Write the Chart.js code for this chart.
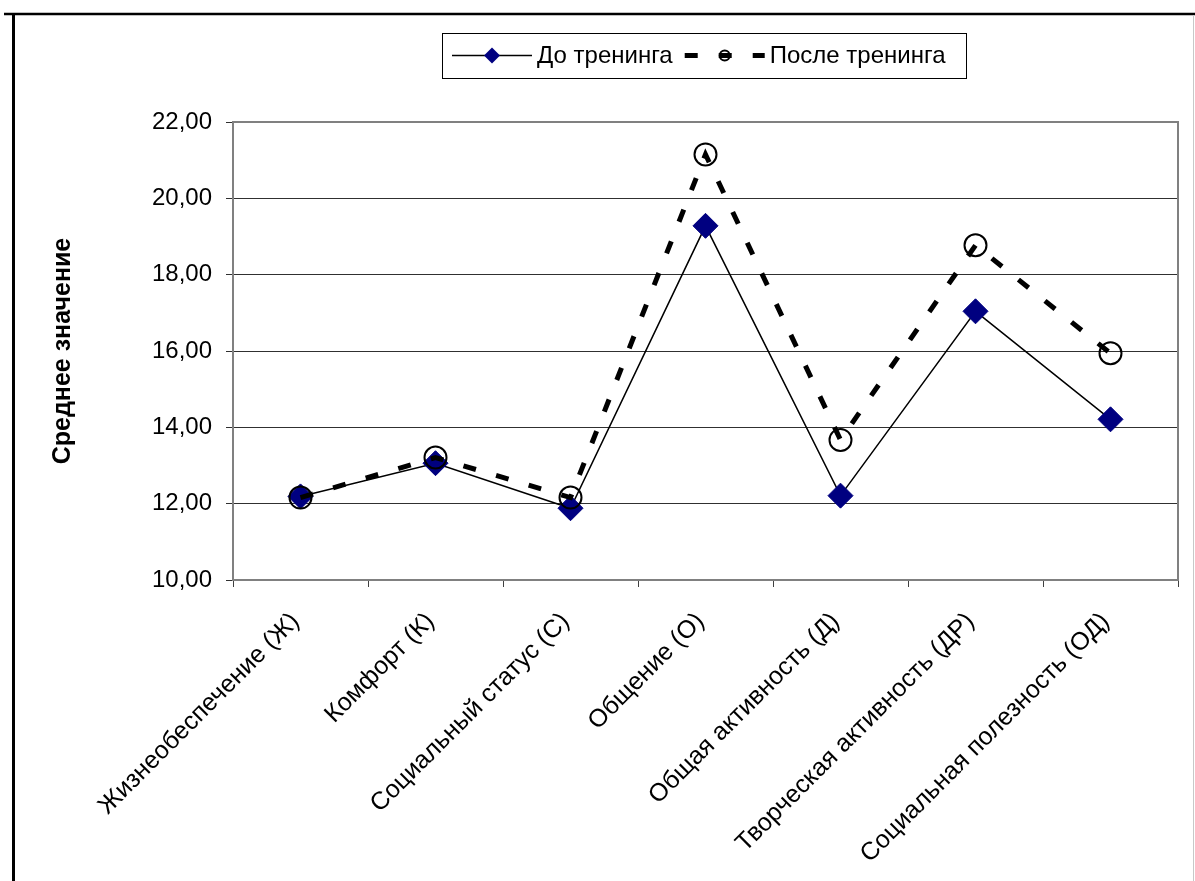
<!DOCTYPE html>
<html>
<head>
<meta charset="utf-8">
<script src="https://cdn.jsdelivr.net/npm/chart.js@4.4.1/dist/chart.umd.min.js"></script>
<style>
  html, body { margin: 0; padding: 0; background: #fff; }
  #wrap { width: 1195px; height: 881px; position: relative; }
</style>
</head>
<body>
<div id="wrap"><canvas id="lifeChart"></canvas></div>
<script>
const categories = [
  "Жизнеобеспечение (Ж)",
  "Комфорт (К)",
  "Социальный статус (С)",
  "Общение (О)",
  "Общая активность (Д)",
  "Творческая активность (ДР)",
  "Социальная полезность (ОД)"
];
const beforeTraining = [12.19, 13.06, 11.88, 19.28, 12.21, 17.04, 14.21];
const afterTraining = [12.16, 13.21, 12.16, 21.15, 13.67, 18.77, 15.94];
const seriesNames = ["До тренинга", "После тренинга"];
const yTicks = { min: 10, max: 22, step: 2 };

const fontFamily = "'Liberation Sans', Arial, sans-serif";

// frame lines around the picture and the grey border of the plot area
const framePlugin = {
  id: "frame",
  beforeDraw(chart) {
    const ctx = chart.ctx;
    ctx.save();
    ctx.fillStyle = "#fff";
    ctx.fillRect(0, 0, chart.width, chart.height);
    ctx.strokeStyle = "#000";
    ctx.lineWidth = 2.5;
    ctx.beginPath();
    ctx.moveTo(4, 14);
    ctx.lineTo(chart.width, 14);
    ctx.stroke();
    ctx.lineWidth = 3;
    ctx.beginPath();
    ctx.moveTo(13.5, 13);
    ctx.lineTo(13.5, chart.height);
    ctx.stroke();
    ctx.strokeStyle = "#c8c8c8";
    ctx.lineWidth = 1;
    ctx.beginPath();
    ctx.moveTo(1193.5, 15);
    ctx.lineTo(1193.5, chart.height);
    ctx.stroke();
    ctx.restore();
  },
  afterDatasetsDraw(chart) {
    const a = chart.chartArea;
    const ctx = chart.ctx;
    ctx.save();
    ctx.strokeStyle = "#808080";
    ctx.lineWidth = 2;
    ctx.beginPath();
    ctx.moveTo(a.left, a.top);
    ctx.lineTo(a.right, a.top);
    ctx.lineTo(a.right, a.bottom);
    ctx.stroke();
    ctx.restore();
  }
};

// legend in a box, like the Excel one: line + marker + name
const boxLegend = {
  id: "boxLegend",
  afterDraw(chart) {
    const ctx = chart.ctx;
    const box = { left: 442, top: 33, right: 966, bottom: 78 };
    const cy = (box.top + box.bottom) / 2;
    ctx.save();
    ctx.fillStyle = "#fff";
    ctx.fillRect(box.left, box.top, box.right - box.left, box.bottom - box.top);
    ctx.strokeStyle = "#000";
    ctx.lineWidth = 1;
    ctx.strokeRect(box.left + 0.5, box.top + 0.5, box.right - box.left, box.bottom - box.top);
    ctx.font = "24px " + fontFamily;
    ctx.textBaseline = "middle";
    ctx.textAlign = "left";

    let x = box.left + 10;
    chart.data.datasets.forEach((ds, i) => {
      const x0 = x, x1 = x + 80, mx = x + 40;
      ctx.strokeStyle = ds.borderColor;
      ctx.lineWidth = ds.borderWidth;
      ctx.setLineDash(ds.borderDash || []);
      ctx.lineCap = "butt";
      ctx.beginPath();
      ctx.moveTo(x0, cy);
      ctx.lineTo(x1, cy);
      ctx.stroke();
      ctx.setLineDash([]);
      if (ds.pointStyle === "rectRot") {
        const r = 8;
        ctx.fillStyle = ds.pointBackgroundColor;
        ctx.beginPath();
        ctx.moveTo(mx, cy - r);
        ctx.lineTo(mx + r, cy);
        ctx.lineTo(mx, cy + r);
        ctx.lineTo(mx - r, cy);
        ctx.closePath();
        ctx.fill();
      } else {
        ctx.strokeStyle = ds.pointBorderColor;
        ctx.lineWidth = 2;
        ctx.beginPath();
        ctx.arc(mx, cy, 5, 0, Math.PI * 2);
        ctx.stroke();
      }
      ctx.fillStyle = "#000";
      ctx.fillText(ds.label, x1 + 5, cy + 1);
      x = x1 + 5 + ctx.measureText(ds.label).width + 12;
    });
    ctx.restore();
  }
};

new Chart(document.getElementById("lifeChart"), {
  type: "line",
  data: {
    labels: categories,
    datasets: [
      {
        label: seriesNames[0],
        data: beforeTraining,
        borderColor: "#000",
        borderWidth: 1.5,
        pointStyle: "rectRot",
        pointRadius: 12.5,
        pointHoverRadius: 12.5,
        pointBackgroundColor: "#000080",
        pointBorderColor: "#000080",
        pointBorderWidth: 1,
        tension: 0,
        order: 2
      },
      {
        label: seriesNames[1],
        data: afterTraining,
        borderColor: "#000",
        borderWidth: 5,
        borderDash: [13, 21],
        borderCapStyle: "butt",
        pointStyle: "circle",
        pointRadius: 11,
        pointHoverRadius: 11,
        pointBackgroundColor: "rgba(0,0,0,0)",
        pointBorderColor: "#000",
        pointBorderWidth: 2,
        tension: 0,
        order: 1
      }
    ]
  },
  options: {
    responsive: true,
    maintainAspectRatio: false,
    animation: false,
    layout: { padding: { left: 48, right: 17, top: 122, bottom: 0 } },
    plugins: {
      legend: { display: false },
      tooltip: { enabled: false }
    },
    scales: {
      x: {
        offset: true,
        grid: {
          offset: true,
          drawOnChartArea: false,
          drawTicks: true,
          tickLength: 7,
          color: "#404040"
        },
        border: { display: true, color: "#808080", width: 2 },
        ticks: {
          autoSkip: false,
          maxRotation: 45,
          minRotation: 45,
          padding: 20,
          labelOffset: -5,
          color: "#000",
          font: { family: fontFamily, size: 25 }
        },
        afterFit(scale) { scale.height = 301; }
      },
      y: {
        min: yTicks.min,
        max: yTicks.max,
        grid: { color: "#303030", lineWidth: 1, tickLength: 7 },
        border: { display: true, color: "#808080", width: 2 },
        ticks: {
          stepSize: yTicks.step,
          padding: 14,
          color: "#000",
          font: { family: fontFamily, size: 24 },
          callback: v => v.toFixed(2).replace(".", ",")
        },
        title: {
          display: true,
          text: "Среднее значение",
          color: "#000",
          padding: { top: 0, bottom: 0 },
          font: { family: fontFamily, size: 25, weight: "bold" }
        },
        afterFit(scale) { scale.width = 185; }
      }
    }
  },
  plugins: [framePlugin, boxLegend]
});
</script>
</body>
</html>
